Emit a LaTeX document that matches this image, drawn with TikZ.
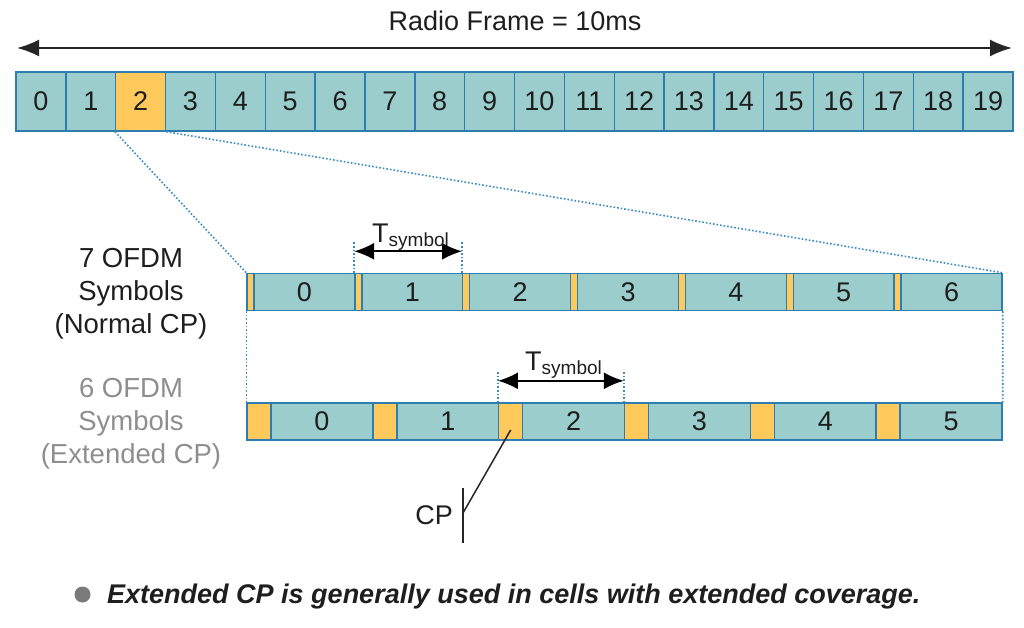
\documentclass[tikz,border=0pt]{standalone}
\usepackage{fontspec}
\setmainfont{Liberation Sans}
\usetikzlibrary{arrows.meta,calc}
\definecolor{teal1}{HTML}{9BCDCD}
\definecolor{bord}{HTML}{2E7DAF}
\definecolor{ylw}{HTML}{FFC95C}
\definecolor{dotc}{HTML}{3A8BC0}
\definecolor{txt}{HTML}{1E1E1E}
\definecolor{gtxt}{HTML}{8E8E8E}
\definecolor{bul}{HTML}{7A7A7A}
\begin{document}
\begin{tikzpicture}[x=1pt,y=-1pt,
  every node/.style={font=\fontsize{27}{33}\selectfont, text=txt},
  cell/.style={draw=bord, line width=1.4pt, fill=teal1, minimum height=59pt, minimum width=49.85pt, inner sep=0pt, anchor=center},
  ncell/.style={draw=bord, line width=1.4pt, fill=teal1, minimum height=37pt, inner sep=0pt},
  cpcell/.style={draw=bord, line width=1.4pt, fill=ylw, minimum height=37pt, inner sep=0pt},
  dotline/.style={draw=dotc, line width=1.6pt, dotted},
  bigarrow/.style={draw=black!85, line width=2pt, {Latex[length=22pt,width=17pt]}-{Latex[length=22pt,width=17pt]}},
  tarrow/.style={draw=black, line width=1.8pt, {Latex[length=20pt,width=17pt]}-{Latex[length=20pt,width=17pt]}},
  lbl/.style={align=center, font=\fontsize{27.5}{33}\selectfont},
  sub/.style={font=\fontsize{19}{19}\selectfont}
]
\useasboundingbox (0,0) rectangle (1024,628);

% title arrow
\coordinate (al) at (17,48);
\coordinate (ar) at (1012,48);
\draw[bigarrow] (al) -- (ar);
\node[anchor=base] (title) at (515,31) {Radio Frame = 10ms};

% top frame cells
\foreach \i in {0,...,19}{
  \pgfmathsetmacro{\cx}{16+49.85*(\i+0.5)}
  \ifnum\i=2
    \node[cell, fill=ylw] (t\i) at (\cx,101.5) {\i};
  \else
    \node[cell] (t\i) at (\cx,101.5) {\i};
  \fi
}

% normal CP row
\foreach \k in {0,...,6}{
  \pgfmathsetmacro{\sx}{247+107.857*\k}
  \pgfmathsetmacro{\cpx}{\sx+3.5}
  \pgfmathsetmacro{\dx}{\sx+7+50.43}
  \node[cpcell, minimum width=7pt] (ncp\k) at (\cpx,292) {};
  \node[ncell, minimum width=100.86pt] (n\k) at (\dx,292) {\k};
}

% extended CP row
\foreach \k in {0,...,5}{
  \pgfmathsetmacro{\sx}{247+125.833*\k}
  \pgfmathsetmacro{\cpx}{\sx+12}
  \pgfmathsetmacro{\dx}{\sx+24+50.92}
  \node[cpcell, minimum width=24pt] (ecp\k) at (\cpx,421.5) {};
  \node[ncell, minimum width=101.83pt] (e\k) at (\dx,421.5) {\k};
}

% zoom dotted lines
\draw[dotline] (t2.south west) -- (ncp0.north west);
\draw[dotline] (t2.south east) -- (n6.north east);
\draw[dotline] (ncp0.south west) -- (ecp0.north west);
\draw[dotline] (n6.south east) -- (e5.north east);

% T symbol normal
\coordinate (nt1) at ($(ncp1.north west)+(0,-31)$);
\coordinate (nt2) at ($(ncp2.north west)+(0,-31)$);
\draw[dotline] (ncp1.north west) -- (nt1);
\draw[dotline] (ncp2.north west) -- (nt2);
\draw[tarrow] ($(ncp1.north west)+(0,-21.5)$) -- ($(ncp2.north west)+(0,-21.5)$);
\node[anchor=base west, inner sep=0pt] (tn) at (372,243) {T\raisebox{-3pt}{\fontsize{19}{19}\selectfont symbol}};

% T symbol extended
\coordinate (et1) at ($(ecp2.north west)+(0,-31)$);
\coordinate (et2) at ($(ecp3.north west)+(0,-31)$);
\draw[dotline] (ecp2.north west) -- (et1);
\draw[dotline] (ecp3.north west) -- (et2);
\draw[tarrow] ($(ecp2.north west)+(0,-21.5)$) -- ($(ecp3.north west)+(0,-21.5)$);
\node[anchor=base west, inner sep=0pt] (te) at (525,370) {T\raisebox{-4pt}{\fontsize{19}{19}\selectfont symbol}};

% left labels
\node[lbl, anchor=base] (nl) at (131,333) {7 OFDM\\Symbols\\(Normal CP)};
\node[lbl, anchor=base, text=gtxt] (el) at (131,463) {6 OFDM\\Symbols\\(Extended CP)};

% CP pointer
\coordinate (cpin) at ($(ecp2.center)+(0,8.5)$);
\coordinate (cpj) at (463,513);
\coordinate (cpt) at (463,488);
\coordinate (cpb) at (463,543);
\draw[line width=1.5pt, black!85] (cpin) -- (cpj);
\draw[line width=1.5pt, black!85] (cpt) -- (cpb);
\node[anchor=base east, inner sep=0pt] (cpl) at (453,524) {CP};

% bullet text
\fill[bul] (82.5,594.5) circle (8pt);
\node[anchor=base west, inner sep=0pt, font=\fontsize{27}{33}\selectfont\bfseries\itshape] (note) at (107,603) {Extended CP is generally used in cells with extended coverage.};
\end{tikzpicture}
\end{document}
